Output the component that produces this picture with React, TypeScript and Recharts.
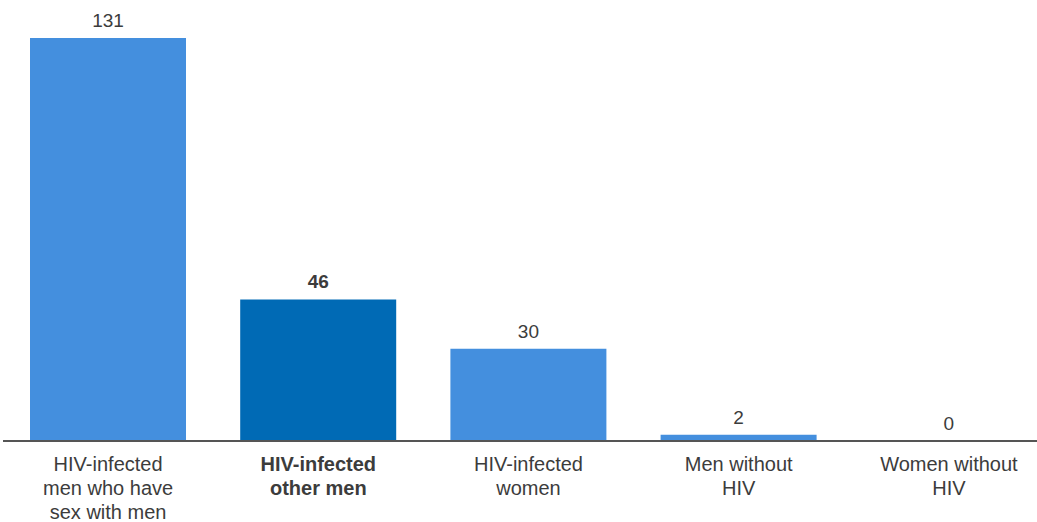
import { BarChart, Bar, XAxis, YAxis, Cell, LabelList } from "recharts";

const categories = [
  ["HIV-infected", "men who have", "sex with men"],
  ["HIV-infected", "other men"],
  ["HIV-infected", "women"],
  ["Men without", "HIV"],
  ["Women without", "HIV"],
];
const values = [131, 46, 30, 2, 0];
const highlighted = [false, true, false, false, false];

const LIGHT = "#448fde";
const DARK = "#006ab5";
const TEXT = "#3c3c3c";

const data = categories.map((lines, i) => ({
  name: lines.join(" "),
  lines,
  value: values[i],
  highlight: highlighted[i],
}));

function CategoryTick({ x, y, index }: any) {
  const d = data[index];
  if (!d) return null;
  return (
    <text
      x={x}
      y={y}
      textAnchor="middle"
      fill={TEXT}
      fontSize={20}
      fontWeight={d.highlight ? 700 : 400}
      fontFamily="'Liberation Sans', Arial, sans-serif"
    >
      {d.lines.map((line, i) => (
        <tspan key={i} x={x} y={y + 22 + i * 24}>
          {line}
        </tspan>
      ))}
    </text>
  );
}

function ValueLabel({ x, y, width, height, value, index }: any) {
  const d = data[index];
  // zero-height bars get a tiny min size; label sits above the baseline
  const top = y + Math.min(0, height);
  return (
    <text
      x={x + width / 2}
      y={top - 11}
      textAnchor="middle"
      fill={TEXT}
      fontSize={19}
      fontWeight={d && d.highlight ? 700 : 400}
      fontFamily="'Liberation Sans', Arial, sans-serif"
    >
      {value}
    </text>
  );
}

export default function App() {
  return (
    <div style={{ position: "absolute", left: 0, top: 0, width: 1037, height: 522, overflow: "hidden" }}>
      <BarChart
        width={1058}
        height={522}
        data={data}
        margin={{ top: 38, right: 4, left: 3, bottom: 0 }}
        barCategoryGap={27}
      >
        <XAxis
          dataKey="name"
          height={81}
          tickLine={false}
          axisLine={{ stroke: "#555", strokeWidth: 2 }}
          interval={0}
          tick={<CategoryTick />}
        />
        <YAxis hide domain={[0, 131]} />
        <Bar
          dataKey="value"
          isAnimationActive={false}
          minPointSize={(v: number) => (v === 0 ? 0.5 : 0)}
        >
          {data.map((d, i) => (
            <Cell
              key={i}
              fill={d.highlight ? DARK : LIGHT}
              fillOpacity={d.value === 0 ? 0 : 1}
            />
          ))}
          <LabelList dataKey="value" content={<ValueLabel />} />
        </Bar>
      </BarChart>
    </div>
  );
}
